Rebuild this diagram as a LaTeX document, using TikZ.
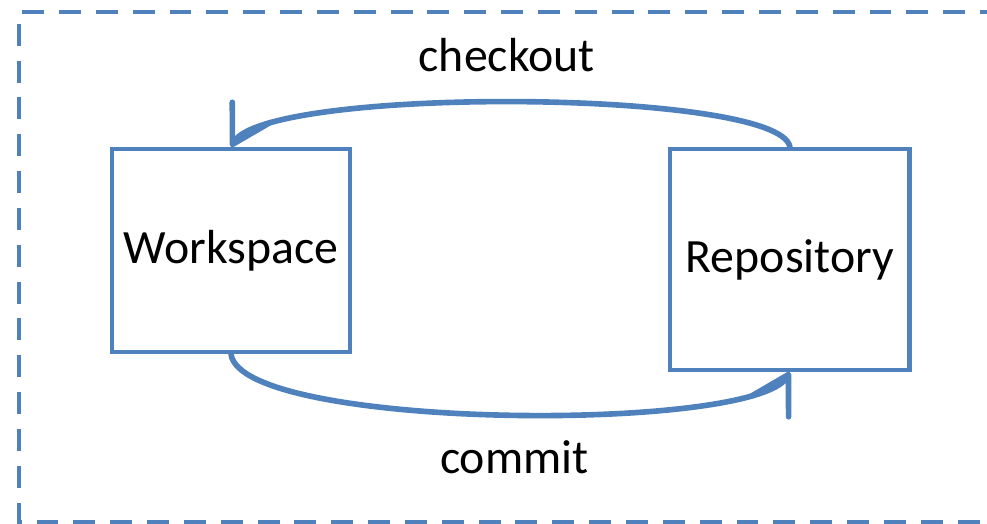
\documentclass[tikz,border=0pt]{standalone}
\usepackage{xcolor}
\usepackage{fontspec}
\setmainfont{Carlito}
\usepackage{tikz}
\usetikzlibrary{positioning, arrows.meta}

\definecolor{officeblue}{HTML}{4F81BD}

\begin{document}
\begin{tikzpicture}[
    x=0.025cm, y=-0.025cm,
    store/.style={rectangle, draw=officeblue, line width=3pt, fill=white, minimum width=5.95cm, align=center, font=\fontsize{34}{40}\selectfont},
    flow_edge/.style={-{Straight Barb[angle=60:30pt, round]}, line width=4pt, line cap=round, draw=officeblue},
    flow_label/.style={font=\fontsize{34}{40}\selectfont},
    frame/.style={draw=officeblue, line width=3pt, dash pattern=on 15.6pt off 10.6pt}
]
\useasboundingbox (0,0) rectangle (987,524);
\draw[frame] (1002,12) -- (19,12) -- (19,522) -- (1002,522);

\node[store, minimum height=5.075cm] (work) at (231,250.5) {Workspace};
\node[store, minimum width=5.975cm, minimum height=5.525cm] (repo) [right=7.9cm of work.north east, anchor=north west] {\raisebox{-0.08cm}{Repository}};

\draw[flow_edge] (repo.north) .. controls +(-10,-58) and +(35,-61) .. node[flow_label, midway, xshift=-0.33cm, yshift=1.17cm] {checkout} (work.north);
\draw[flow_edge] (work.south) .. controls +(10,76) and +(-35,61) .. node[flow_label, midway, xshift=0.33cm, yshift=-1.08cm] {commit} (repo.south);
\end{tikzpicture}
\end{document}
